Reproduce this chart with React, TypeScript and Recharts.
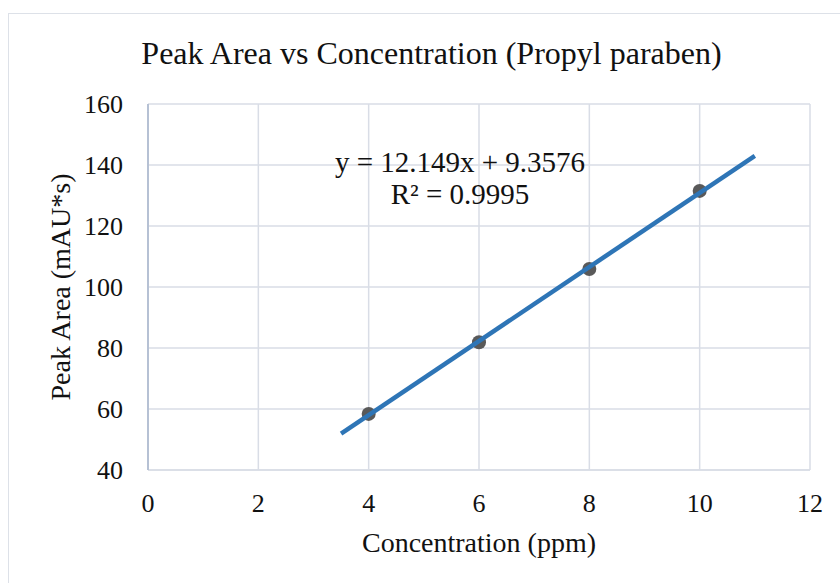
import {
  ScatterChart,
  Scatter,
  XAxis,
  YAxis,
  CartesianGrid,
  Label,
} from "recharts";

const concentrations = [4, 6, 8, 10];
const peakAreas = [58.4, 81.9, 105.9, 131.5];

// trendline ends as drawn by the spreadsheet (forecast back to 3.5, forward to 11)
const trendX = [3.5, 11];
const trendY = [51.9, 143.0];

const xTicks = [0, 2, 4, 6, 8, 10, 12];
const yTicks = [40, 60, 80, 100, 120, 140, 160];

const title = "Peak Area vs Concentration (Propyl paraben)";
const xTitle = "Concentration (ppm)";
const yTitle = "Peak Area (mAU*s)";
const equation = "y = 12.149x + 9.3576";
const rSquared = "R² = 0.9995";

const points = concentrations.map((x, i) => ({ x, y: peakAreas[i] }));
const trend = trendX.map((x, i) => ({ x, y: trendY[i] }));

const FONT = '"Liberation Serif", "Times New Roman", serif';
const GRID = "#d9dde6";
const TEXT = "#111";

function XTick(props: any) {
  const { x, y, payload } = props;
  return (
    <text
      x={x}
      y={y + 19}
      textAnchor="middle"
      style={{ fontFamily: FONT, fontSize: 26, fill: TEXT }}
    >
      {payload.value}
    </text>
  );
}

function YTick(props: any) {
  const { x, y, payload } = props;
  return (
    <text
      x={x}
      y={y + 9}
      textAnchor="end"
      style={{ fontFamily: FONT, fontSize: 26, fill: TEXT }}
    >
      {payload.value}
    </text>
  );
}

export default function App() {
  return (
    <div
      style={{
        position: "absolute",
        left: 0,
        top: 0,
        width: 840,
        height: 583,
        overflow: "hidden",
        background: "#fff",
        fontFamily: FONT,
      }}
    >
      <div
        style={{
          position: "absolute",
          left: 8,
          top: 13,
          width: 900,
          height: 700,
          border: "1.5px solid #dde1e8",
        }}
      />
      <div
        style={{
          position: "absolute",
          left: 0,
          top: 35,
          width: 863,
          textAlign: "center",
          fontSize: 32,
          color: TEXT,
        }}
      >
        {title}
      </div>
      <div style={{ position: "absolute", left: 0, top: 0 }}>
        <ScatterChart
          width={840}
          height={583}
          margin={{ top: 104, right: 30, left: 0, bottom: 0 }}
        >
          <CartesianGrid stroke={GRID} strokeWidth={1.5} />
          <XAxis
            type="number"
            dataKey="x"
            domain={[0, 12]}
            ticks={xTicks}
            interval={0}
            height={113}
            tickSize={0}
            tickMargin={23}
            tickLine={false}
            axisLine={{ stroke: GRID, strokeWidth: 1.5 }}
            tick={<XTick />}
          >
            <Label
              value={xTitle}
              position="insideBottom"
              offset={31}
              style={{ fontSize: 28, fill: TEXT, fontFamily: FONT }}
            />
          </XAxis>
          <YAxis
            type="number"
            dataKey="y"
            domain={[40, 160]}
            ticks={yTicks}
            interval={0}
            width={148}
            tickSize={0}
            tickMargin={25}
            tickLine={false}
            axisLine={{ stroke: "#b6c1d4", strokeWidth: 2 }}
            tick={<YTick />}
          >
            <Label
              content={(props: any) => {
                const vb = props.viewBox || {};
                const cy = vb.y + vb.height / 2;
                const cx = 70;
                return (
                  <text
                    x={cx}
                    y={cy}
                    transform={`rotate(-90, ${cx}, ${cy})`}
                    textAnchor="middle"
                    style={{ fontSize: 28, fill: TEXT, fontFamily: FONT }}
                  >
                    {yTitle}
                  </text>
                );
              }}
            />
          </YAxis>
          <Scatter
            data={points}
            fill="#595959"
            isAnimationActive={false}
            shape={(p: any) => (
              <circle cx={p.cx} cy={p.cy} r={7} fill="#595959" />
            )}
          />
          <Scatter
            data={trend}
            line={{ stroke: "#2e75b6", strokeWidth: 4.5 }}
            shape={() => null}
            isAnimationActive={false}
          />
        </ScatterChart>
      </div>
      <div
        style={{
          position: "absolute",
          left: 310,
          top: 146,
          width: 300,
          textAlign: "center",
          fontSize: 29,
          lineHeight: "32px",
          color: TEXT,
        }}
      >
        <div>{equation}</div>
        <div>{rSquared}</div>
      </div>
    </div>
  );
}
